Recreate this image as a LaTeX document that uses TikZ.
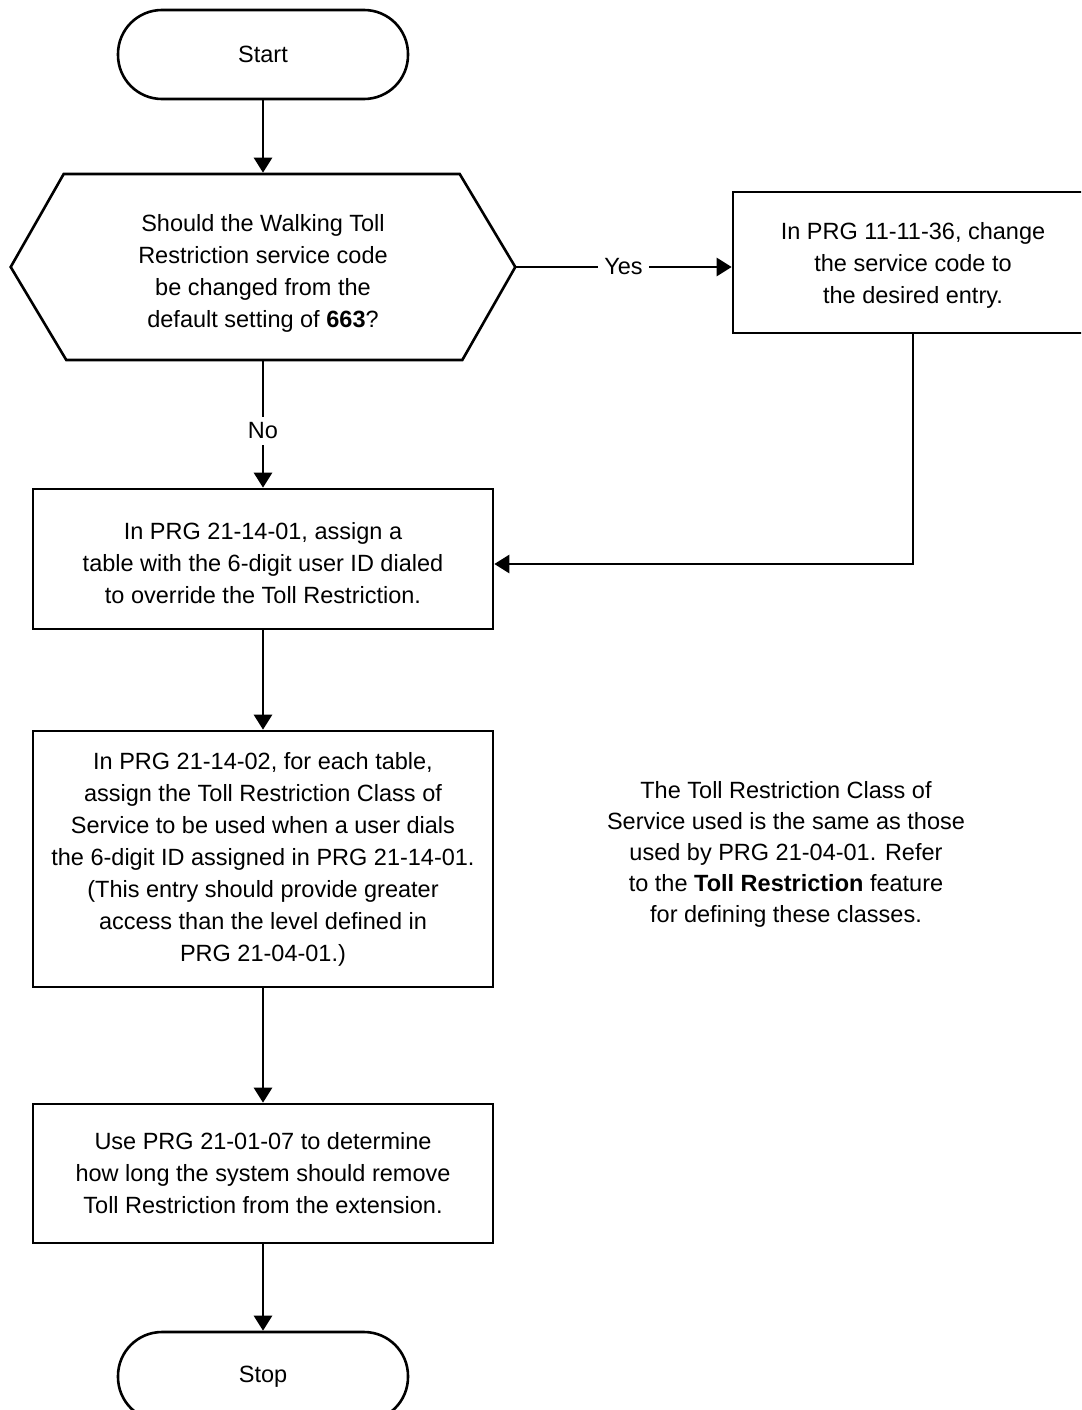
\documentclass[tikz,border=0pt]{standalone}
\usepackage{fontspec}
\setmainfont{Liberation Sans}
\usetikzlibrary{arrows.meta}
\begin{document}
\begin{tikzpicture}[x=1pt,y=-1pt,
  line width=2.6pt,
  every node/.style={font=\fontsize{23.5}{32}\selectfont, align=center, inner sep=0pt},
  procbox/.style={draw, rectangle, minimum width=460pt},
  term/.style={draw, rectangle, rounded corners=44pt, minimum width=290pt, minimum height=89pt},
  arr/.style={-{Triangle[length=15pt,width=18pt]}},
  lbl/.style={fill=white, inner xsep=6pt, inner ysep=6pt}]
\useasboundingbox (0,0) rectangle (1081,1410);
\clip (0,0) rectangle (1081,1410);

\node[term] (start) at (263,54.5) {Start};

\node[minimum width=502pt, minimum height=186pt] (dec) at (263,267) {};
\node (dectext) at (263,273) {Should the Walking Toll\\Restriction service code\\be changed from the\\default setting of \textbf{663}?};
\draw (dec.west) -- ++(53,-93) -- ++(396,0) -- (dec.east) -- ++(-53,93) -- ++(-396,0) -- cycle;

\node[procbox, minimum width=360pt, minimum height=141pt] (chg) at (913,262.5) {};
\node at (913,265) {In PRG 11-11-36, change\\the service code to\\the desired entry.};

\node[procbox, minimum height=140pt] (b1) at (263,559) {};
\node at (263,563.5) {In PRG 21-14-01, assign a\\table with the 6-digit user ID dialed\\to override the Toll Restriction.};

\node[procbox, minimum height=256pt] (b2) at (263,859)
  {In PRG 21-14-02, for each table,\\assign the Toll Restriction Class of\\Service to be used when a user dials\\the 6-digit ID assigned in PRG 21-14-01.\\(This entry should provide greater\\access than the level defined in\\PRG 21-04-01.)};

\node[procbox, minimum height=139pt] (b3) at (263,1173.5)
  {Use PRG 21-01-07 to determine\\how long the system should remove\\Toll Restriction from the extension.};

\node[term] (stop) at (263,1376.5) {Stop};

\node[font=\fontsize{23.5}{31}\selectfont] (note) at (786,854.5)
  {The Toll Restriction Class of\\Service used is the same as those\\used by PRG 21-04-01. Refer\\to the \textbf{Toll Restriction} feature\\for defining these classes.};

\draw[arr] (start) -- (dec);
\draw[arr] (dec) -- node[lbl, pos=0.55] {No} (b1);
\draw[arr] (dec.east) -- node[lbl] {Yes} (dec.east -| chg.west);
\draw[arr] (chg.south) |- ([yshift=-5pt]b1.east);
\draw[arr] (b1) -- (b2);
\draw[arr] (b2) -- (b3);
\draw[arr] (b3) -- (stop);
\end{tikzpicture}
\end{document}
